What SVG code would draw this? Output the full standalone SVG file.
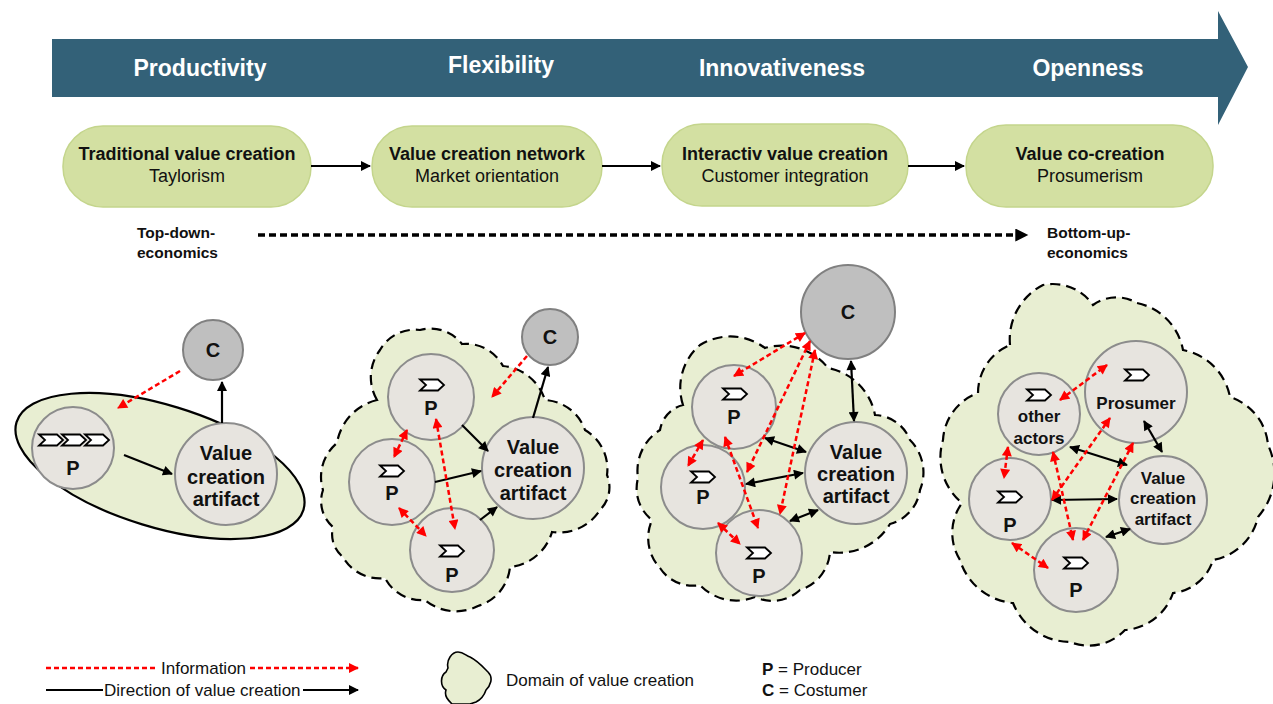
<svg xmlns="http://www.w3.org/2000/svg" xmlns:xlink="http://www.w3.org/1999/xlink" width="1273" height="704" viewBox="0 0 1273 704">
<style>
.pill{fill:#d3e0a2;stroke:#c4d58c;stroke-width:1.5}
.node{fill:#e7e4df;stroke:#8c8c8c;stroke-width:2}
.cnode{fill:#bfbfbf;stroke:#808080;stroke-width:2}
.dom{fill:#e8eed2;stroke:#000;stroke-width:2.2;stroke-dasharray:10 6}
.head{font-family:"Liberation Sans",Arial,sans-serif;font-weight:bold;font-size:23px;fill:#fff;text-anchor:middle}
.pt{font-family:"Liberation Sans",Arial,sans-serif;font-size:18px;fill:#111;text-anchor:middle}
.b{font-weight:bold}
.nt{font-family:"Liberation Sans",Arial,sans-serif;font-weight:bold;font-size:20px;fill:#111;text-anchor:middle}
.nt4{font-family:"Liberation Sans",Arial,sans-serif;font-weight:bold;font-size:17px;fill:#111;text-anchor:middle}
.eco{font-family:"Liberation Sans",Arial,sans-serif;font-weight:bold;font-size:15.5px;fill:#111}
.lg{font-family:"Liberation Sans",Arial,sans-serif;font-size:17px;fill:#111}
.blk{stroke:#000;stroke-width:2.2;fill:none}
.red{stroke:#ff0000;stroke-width:2.5;fill:none;stroke-dasharray:5 3}
.chev{fill:#fff;stroke:#000;stroke-width:1.8;stroke-linejoin:miter}
</style>
<defs>
<marker id="ak" viewBox="0 0 10 10" refX="9" refY="5" markerWidth="11" markerHeight="10" markerUnits="userSpaceOnUse" orient="auto-start-reverse"><path d="M0,0 L10,5 L0,10 z" fill="#000"/></marker>
<marker id="ar" viewBox="0 0 10 10" refX="9" refY="5" markerWidth="11" markerHeight="10" markerUnits="userSpaceOnUse" orient="auto-start-reverse"><path d="M0,0 L10,5 L0,10 z" fill="#ff0000"/></marker>
<marker id="ae" viewBox="0 0 10 10" refX="9" refY="5" markerWidth="14" markerHeight="13" markerUnits="userSpaceOnUse" orient="auto"><path d="M0,0 L10,5 L0,10 z" fill="#000"/></marker>
<path id="chev" class="chev" d="M-12,-5.5 L6,-5.5 L12,0 L6,5.5 L-12,5.5 L-6,0 Z"/>
</defs>

<g id="timeline">
<polygon points="52,39 1218,39 1218,11 1248,67 1218,125 1218,97 52,97" fill="#336178"/>
<text class="head" x="200" y="76">Productivity</text>
<text class="head" x="501" y="73">Flexibility</text>
<text class="head" x="782" y="76">Innovativeness</text>
<text class="head" x="1088" y="76">Openness</text>
</g>

<g id="pill1"><rect class="pill" x="63" y="126" width="248" height="81" rx="40"/>
<text class="pt b" x="187" y="160">Traditional value creation</text><text class="pt" x="187" y="182">Taylorism</text></g>
<g id="pill2"><rect class="pill" x="372" y="126" width="230" height="81" rx="40"/>
<text class="pt b" x="487" y="160">Value creation network</text><text class="pt" x="487" y="182">Market orientation</text></g>
<g id="pill3"><rect class="pill" x="662" y="124" width="246" height="82" rx="40"/>
<text class="pt b" x="785" y="160">Interactiv value creation</text><text class="pt" x="785" y="182">Customer integration</text></g>
<g id="pill4"><rect class="pill" x="966" y="125" width="247" height="82" rx="40"/>
<text class="pt b" x="1090" y="160">Value co-creation</text><text class="pt" x="1090" y="182">Prosumerism</text></g>

<g id="economics">
<text class="eco" x="137" y="238">Top-down-</text><text class="eco" x="137" y="258">economics</text>
<text class="eco" x="1047" y="238">Bottom-up-</text><text class="eco" x="1047" y="258">economics</text>
</g>

<g id="domains">
<ellipse cx="160" cy="466" rx="150" ry="61" transform="rotate(17 160 466)" fill="#e8eed2" stroke="#000" stroke-width="2.2"/>
<path class="dom" d="M377,400 A45,45 0 0 1 380,350 A40,40 0 0 1 420,330 A40,40 0 0 1 462,344 A42,42 0 0 1 503,366 A49,49 0 0 1 545,400 A45,45 0 0 1 585,430 A45,45 0 0 1 607,475 A32,32 0 0 1 600,510 A48,48 0 0 1 552,532 A49,49 0 0 1 510,567 A45,45 0 0 1 478,606 A48,48 0 0 1 425,600 A41,41 0 0 1 385,578 A42,42 0 0 1 343,557 A29,29 0 0 1 333,527 A34,34 0 0 1 323,490 A44,44 0 0 1 337,443 A53,53 0 0 1 377,400 Z"/>
<path class="dom" d="M683,405 A56,56 0 0 1 700,345 A58,58 0 0 1 765,348 A59,59 0 0 1 828,368 A59,59 0 0 1 875,415 A39,39 0 0 1 910,440 A46,46 0 0 1 920,490 A41,41 0 0 1 890,524 A59,59 0 0 1 830,552 A43,43 0 0 1 800,590 A41,41 0 0 1 755,597 A50,50 0 0 1 700,585 A39,39 0 0 1 660,568 A44,44 0 0 1 652,520 A40,40 0 0 1 638,478 A48,48 0 0 1 660,430 A31,31 0 0 1 683,405 Z"/>
<path class="dom" d="M1010,345 A61,61 0 0 1 1043,285 A49,49 0 0 1 1093,305 A40,40 0 0 1 1137,303 A59,59 0 0 1 1183,350 A59,59 0 0 1 1230,397 A55,55 0 0 1 1268,445 A66,66 0 0 1 1258,517 A56,56 0 0 1 1213,560 A47,47 0 0 1 1173,593 A55,55 0 0 1 1125,630 A50,50 0 0 1 1070,642 A62,62 0 0 1 1013,603 A61,61 0 0 1 960,560 A51,51 0 0 1 962,503 A59,59 0 0 1 943,440 A53,53 0 0 1 978,393 A52,52 0 0 1 1010,345 Z"/>
</g>

<g id="p1-C"><circle class="cnode" cx="213" cy="350" r="30"/><text class="nt" x="213" y="357">C</text></g>
<g id="p1-P"><circle class="node" cx="73" cy="448" r="41"/>
<use xlink:href="#chev" href="#chev" x="51" y="440"/><use xlink:href="#chev" href="#chev" x="74" y="440"/><use xlink:href="#chev" href="#chev" x="97" y="440"/>
<text class="nt" x="73" y="475">P</text></g>
<g id="p1-VCA"><circle class="node" cx="226" cy="474" r="51"/>
<text class="nt" x="226" y="460">Value</text><text class="nt" x="226" y="484">creation</text><text class="nt" x="226" y="506">artifact</text></g>

<g id="p2-C"><circle class="cnode" cx="550" cy="337" r="28"/><text class="nt" x="550" y="344">C</text></g>
<g id="p2-P1"><circle class="node" cx="431" cy="397" r="43"/><use xlink:href="#chev" href="#chev" x="432" y="385"/><text class="nt" x="431" y="415">P</text></g>
<g id="p2-P2"><circle class="node" cx="392" cy="482" r="43"/><use xlink:href="#chev" href="#chev" x="392" y="471"/><text class="nt" x="392" y="500">P</text></g>
<g id="p2-P3"><circle class="node" cx="452" cy="550" r="42"/><use xlink:href="#chev" href="#chev" x="452" y="551"/><text class="nt" x="452" y="582">P</text></g>
<g id="p2-VCA"><circle class="node" cx="533" cy="468" r="51"/>
<text class="nt" x="533" y="454">Value</text><text class="nt" x="533" y="477">creation</text><text class="nt" x="533" y="500">artifact</text></g>

<g id="p3-C"><circle class="cnode" cx="848" cy="312" r="47"/><text class="nt" x="848" y="319">C</text></g>
<g id="p3-P1"><circle class="node" cx="734" cy="407" r="42"/><use xlink:href="#chev" href="#chev" x="735" y="394"/><text class="nt" x="734" y="424">P</text></g>
<g id="p3-P2"><circle class="node" cx="703" cy="487" r="42"/><use xlink:href="#chev" href="#chev" x="703" y="477"/><text class="nt" x="703" y="504">P</text></g>
<g id="p3-P3"><circle class="node" cx="759" cy="553" r="43"/><use xlink:href="#chev" href="#chev" x="759" y="553"/><text class="nt" x="759" y="583">P</text></g>
<g id="p3-VCA"><circle class="node" cx="856" cy="473" r="51"/>
<text class="nt" x="856" y="459">Value</text><text class="nt" x="856" y="481">creation</text><text class="nt" x="856" y="503">artifact</text></g>

<g id="p4-Prosumer"><circle class="node" cx="1136" cy="392" r="51"/><use xlink:href="#chev" href="#chev" x="1137" y="375"/><text class="nt4" x="1136" y="409">Prosumer</text></g>
<g id="p4-others"><circle class="node" cx="1039" cy="414" r="41"/><use xlink:href="#chev" href="#chev" x="1039" y="395"/><text class="nt4" x="1039" y="422">other</text><text class="nt4" x="1039" y="444">actors</text></g>
<g id="p4-P1"><circle class="node" cx="1010" cy="499" r="41"/><use xlink:href="#chev" href="#chev" x="1010" y="497"/><text class="nt" x="1010" y="532">P</text></g>
<g id="p4-P2"><circle class="node" cx="1076" cy="570" r="42"/><use xlink:href="#chev" href="#chev" x="1076" y="563"/><text class="nt" x="1076" y="597">P</text></g>
<g id="p4-VCA"><circle class="node" cx="1163" cy="500" r="44"/>
<text class="nt4" x="1163" y="484">Value</text><text class="nt4" x="1163" y="504">creation</text><text class="nt4" x="1163" y="525">artifact</text></g>

<g id="connectors">
<line class="blk" x1="311" y1="166" x2="370" y2="166" marker-end="url(#ak)"/>
<line class="blk" x1="602" y1="166" x2="660" y2="166" marker-end="url(#ak)"/>
<line class="blk" x1="908" y1="166" x2="964" y2="166" marker-end="url(#ak)"/>
<line x1="258" y1="235" x2="1027" y2="235" stroke="#000" stroke-width="3.5" stroke-dasharray="7 4" marker-end="url(#ae)"/>

<line class="blk" x1="124" y1="455" x2="172" y2="474" marker-end="url(#ak)"/>
<line class="blk" x1="222" y1="423" x2="222" y2="382" marker-end="url(#ak)"/>
<line class="red" x1="180" y1="371" x2="118" y2="408" marker-end="url(#ar)"/>

<line class="blk" x1="462" y1="425" x2="488" y2="451" marker-end="url(#ak)"/>
<line class="blk" x1="435" y1="482" x2="481" y2="471" marker-end="url(#ak)"/>
<line class="blk" x1="480" y1="520" x2="497" y2="507" marker-end="url(#ak)"/>
<line class="blk" x1="533" y1="418" x2="548" y2="367" marker-end="url(#ak)"/>
<line class="red" x1="527" y1="356" x2="492" y2="397" marker-end="url(#ar)"/>
<line class="red" x1="407" y1="430" x2="394" y2="457" marker-start="url(#ar)" marker-end="url(#ar)"/>
<line class="red" x1="436" y1="419" x2="455" y2="529" marker-start="url(#ar)" marker-end="url(#ar)"/>
<line class="red" x1="399" y1="508" x2="426" y2="536" marker-start="url(#ar)" marker-end="url(#ar)"/>

<line class="blk" x1="851" y1="361" x2="854" y2="421" marker-start="url(#ak)" marker-end="url(#ak)"/>
<line class="blk" x1="765" y1="438" x2="806" y2="452" marker-start="url(#ak)" marker-end="url(#ak)"/>
<line class="blk" x1="746" y1="484" x2="803" y2="473" marker-start="url(#ak)" marker-end="url(#ak)"/>
<line class="blk" x1="790" y1="521" x2="818" y2="510" marker-start="url(#ak)" marker-end="url(#ak)"/>
<line class="red" x1="805" y1="333" x2="734" y2="376" marker-start="url(#ar)" marker-end="url(#ar)"/>
<line class="red" x1="810" y1="341" x2="747" y2="472" marker-start="url(#ar)" marker-end="url(#ar)"/>
<line class="red" x1="815" y1="350" x2="780" y2="514" marker-start="url(#ar)" marker-end="url(#ar)"/>
<line class="red" x1="703" y1="440" x2="688" y2="466" marker-start="url(#ar)" marker-end="url(#ar)"/>
<line class="red" x1="725" y1="437" x2="758" y2="528" marker-start="url(#ar)" marker-end="url(#ar)"/>
<line class="red" x1="718" y1="523" x2="740" y2="544" marker-start="url(#ar)" marker-end="url(#ar)"/>

<line class="blk" x1="1144" y1="421" x2="1162" y2="452" marker-start="url(#ak)" marker-end="url(#ak)"/>
<line class="blk" x1="1070" y1="447" x2="1127" y2="465" marker-start="url(#ak)" marker-end="url(#ak)"/>
<line class="blk" x1="1052" y1="500" x2="1117" y2="499" marker-start="url(#ak)" marker-end="url(#ak)"/>
<line class="blk" x1="1106" y1="537" x2="1130" y2="529" marker-start="url(#ak)" marker-end="url(#ak)"/>
<line class="red" x1="1060" y1="400" x2="1107" y2="365" marker-start="url(#ar)" marker-end="url(#ar)"/>
<line class="red" x1="1008" y1="447" x2="1004" y2="478" marker-start="url(#ar)" marker-end="url(#ar)"/>
<line class="red" x1="1052" y1="500" x2="1110" y2="418" marker-start="url(#ar)" marker-end="url(#ar)"/>
<line class="red" x1="1053" y1="452" x2="1073" y2="540" marker-start="url(#ar)" marker-end="url(#ar)"/>
<line class="red" x1="1133" y1="443" x2="1083" y2="540" marker-start="url(#ar)" marker-end="url(#ar)"/>
<line class="red" x1="1012" y1="543" x2="1048" y2="568" marker-start="url(#ar)" marker-end="url(#ar)"/>
</g>

<g id="legend">
<line class="red" x1="46" y1="668" x2="158" y2="668"/>
<text class="lg" x="161" y="674">Information</text>
<line class="red" x1="250" y1="668" x2="358" y2="668" marker-end="url(#ar)"/>
<line class="blk" x1="46" y1="690" x2="103" y2="690"/>
<text class="lg" x="104" y="696">Direction of value creation</text>
<line class="blk" x1="303" y1="690" x2="358" y2="690" marker-end="url(#ak)"/>
<path d="M448,668 C446,660 452,652 458,652 C464,652 466,656 470,657 C478,661 484,668 488,672 C494,678 490,686 486,690 C484,696 480,700 476,702 L470,704 L452,704 C448,700 444,696 446,690 C440,686 440,676 446,672 Z" fill="#e8eed2" stroke="#000" stroke-width="1.6"/>
<text class="lg" x="506" y="686">Domain of value creation</text>
<text class="lg" x="762" y="675"><tspan font-weight="bold">P</tspan> = Producer</text>
<text class="lg" x="762" y="696"><tspan font-weight="bold">C</tspan> = Costumer</text>
</g>
</svg>
